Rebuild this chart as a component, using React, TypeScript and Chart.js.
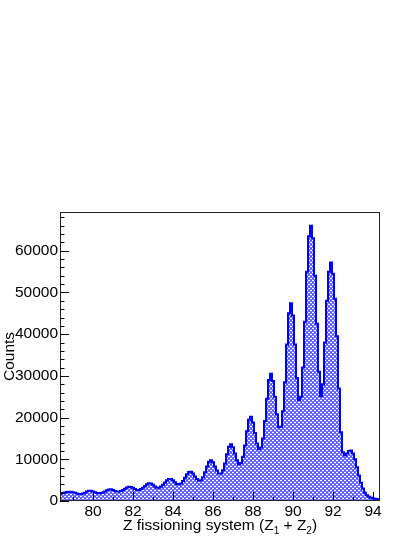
import React, { useEffect, useRef } from 'react';
import { Chart, registerables } from 'chart.js';

Chart.register(...registerables);

// Histogram binning (bin low edge of first bin, bin width)
const binLowEdge = 78.35;
const binWidth = 0.1;

// Counts per bin, bin centres 78.4 ... 94.3
const counts = [
  1650, 1750, 1900, 2050, 2150, 2200, 2200, 2100, 1950, 1800,
  1700, 1700, 1800, 2000, 2250, 2450, 2450, 2300, 2100, 1900,
  1850, 1900, 2050, 2300, 2550, 2750, 2800, 2650, 2400, 2250,
  2250, 2400, 2650, 2950, 3250, 3400, 3350, 3150, 2850, 2650,
  2650, 2850, 3150, 3600, 4000, 4250, 4200, 3900, 3500, 3200,
  3200, 3450, 3900, 4450, 4950, 5250, 5250, 4950, 4500, 4100,
  4000, 4200, 4800, 5600, 6400, 6950, 7000, 6600, 5900, 5250,
  4900, 5000, 5700, 6900, 8300, 9400, 9800, 9300, 8300, 7300,
  6600, 6600, 7400, 9000, 11200, 13000, 13600, 12900, 11400, 9800,
  8800, 9100, 10600, 13300, 16700, 19500, 20200, 18800, 16300, 13800,
  12400, 12800, 15000, 19200, 24500, 29000, 30500, 28800, 25000, 20800,
  17700, 17800, 21500, 28500, 37500, 45000, 47400, 44500, 37500, 29500,
  24200, 25000, 32000, 43000, 55000, 63500, 66000, 63000, 54000, 42500,
  31000, 25200, 28000, 38000, 48000, 55000, 57200, 54500, 48500, 39500,
  27000, 16500, 11700, 10900, 11400, 12000, 12100, 11400, 10000, 8100,
  6100, 4400, 3000, 2000, 1400, 1000, 800, 650, 550, 450,
];

const xMin = 78.35;
const xMax = 94.35;
const yMax = 69300;

const xTickValues = [80, 82, 84, 86, 88, 90, 92, 94];
const xMinorStep = 1;
const yTickValues = [0, 10000, 20000, 30000, 40000, 50000, 60000];
const yMinorStep = 2000;

const yTitle = 'Counts';
// x title pieces: [text, isSubscript]
const xTitleParts: [string, boolean][] = [
  ['Z fissioning system (Z', false],
  ['1', true],
  [' + Z', false],
  ['2', true],
  [')', false],
];

const FONT = '"Liberation Sans", Arial, Helvetica, sans-serif';

export default function App() {
  const ref = useRef<HTMLCanvasElement>(null);

  useEffect(() => {
    const canvas = ref.current!;
    const ctx0 = canvas.getContext('2d')!;

    // dotted fill pattern (ROOT-like blue fill with white dashes, brick offset)
    const pc = document.createElement('canvas');
    pc.width = 4;
    pc.height = 4;
    const p = pc.getContext('2d')!;
    p.fillStyle = 'rgb(120,120,255)';
    p.fillRect(0, 0, 4, 4);
    p.fillStyle = 'rgb(88,88,255)';
    p.fillRect(0, 0, 4, 1);
    p.fillRect(0, 2, 4, 1);
    p.fillStyle = '#ffffff';
    p.fillRect(0, 0, 2, 1);
    p.fillRect(2, 2, 2, 1);
    const pattern = ctx0.createPattern(pc, 'repeat')!;

    const points = counts.map((c, i) => ({ x: binLowEdge + i * binWidth, y: c }));
    points.push({ x: binLowEdge + counts.length * binWidth, y: counts[counts.length - 1] });

    const rootAxes = {
      id: 'rootAxes',
      afterDatasetsDraw(chart: any) {
        const { ctx, chartArea, scales } = chart;
        const { left, right, top, bottom } = chartArea;
        const xs = scales.x;
        const ys = scales.y;
        ctx.save();
        ctx.strokeStyle = '#000';
        ctx.lineWidth = 1;
        ctx.beginPath();
        for (let v = Math.ceil(xMin); v <= xMax; v += xMinorStep) {
          const px = Math.round(xs.getPixelForValue(v)) + 0.5;
          const len = xTickValues.includes(v) ? 9 : 4.5;
          ctx.moveTo(px, bottom);
          ctx.lineTo(px, bottom - len);
        }
        for (let v = 0; v <= yMax; v += yMinorStep) {
          const py = Math.round(ys.getPixelForValue(v)) + 0.5;
          const len = yTickValues.includes(v) ? 9 : 4.5;
          ctx.moveTo(left, py);
          ctx.lineTo(left + len, py);
        }
        ctx.stroke();
        ctx.strokeStyle = '#222';
        ctx.strokeRect(left + 0.5, top + 0.5, right - left - 1, bottom - top - 1);
        ctx.restore();
      },
      afterDraw(chart: any) {
        const { ctx, chartArea } = chart;
        const big = 15.5;
        const small = 10;
        ctx.save();
        ctx.fillStyle = '#000';
        ctx.textBaseline = 'alphabetic';
        ctx.textAlign = 'left';
        let total = 0;
        const widths = xTitleParts.map(([t, sub]) => {
          ctx.font = `${sub ? small : big}px ${FONT}`;
          const w = ctx.measureText(t).width;
          total += w;
          return w;
        });
        let x = (chartArea.left + chartArea.right) / 2 - total / 2;
        const base = 530;
        xTitleParts.forEach(([t, sub], i) => {
          ctx.font = `${sub ? small : big}px ${FONT}`;
          ctx.fillText(t, x, sub ? base + 4 : base);
          x += widths[i];
        });
        ctx.restore();
      },
    };

    const chart = new Chart(canvas, {
      type: 'line',
      data: {
        datasets: [
          {
            data: points,
            stepped: 'after',
            borderColor: '#0000ff',
            borderWidth: 2,
            backgroundColor: pattern,
            fill: 'origin',
            pointRadius: 0,
            tension: 0,
          },
        ],
      },
      options: {
        animation: false,
        responsive: false,
        events: [],
        layout: { padding: { left: 0, right: 35, top: 212, bottom: 0 } },
        plugins: { legend: { display: false }, tooltip: { enabled: false } },
        scales: {
          x: {
            type: 'linear',
            min: xMin,
            max: xMax,
            grid: { display: false, drawTicks: false },
            border: { display: false },
            afterBuildTicks: (scale: any) => {
              scale.ticks = xTickValues.map((v) => ({ value: v }));
            },
            afterFit: (scale: any) => {
              scale.height = 36;
            },
            ticks: {
              autoSkip: false,
              maxRotation: 0,
              padding: 1,
              color: '#000',
              font: { family: FONT, size: 15.5 },
              callback: (v: any) => String(v),
            },
          },
          y: {
            type: 'linear',
            min: 0,
            max: yMax,
            grid: { display: false, drawTicks: false },
            border: { display: false },
            afterBuildTicks: (scale: any) => {
              scale.ticks = yTickValues.map((v) => ({ value: v }));
            },
            afterFit: (scale: any) => {
              scale.width = 60;
            },
            title: {
              display: true,
              text: yTitle,
              color: '#000',
              font: { family: FONT, size: 15.5 },
              padding: { top: 0, bottom: 0 },
            },
            ticks: {
              padding: 2,
              color: '#000',
              font: { family: FONT, size: 15.5 },
              callback: (v: any) => String(v),
            },
          },
        },
      },
      plugins: [rootAxes],
    });

    return () => chart.destroy();
  }, []);

  return (
    <div style={{ position: 'fixed', left: 0, top: 0, width: 415, height: 537, background: '#fff' }}>
      <canvas ref={ref} width={415} height={537} style={{ width: 415, height: 537, display: 'block' }} />
    </div>
  );
}
